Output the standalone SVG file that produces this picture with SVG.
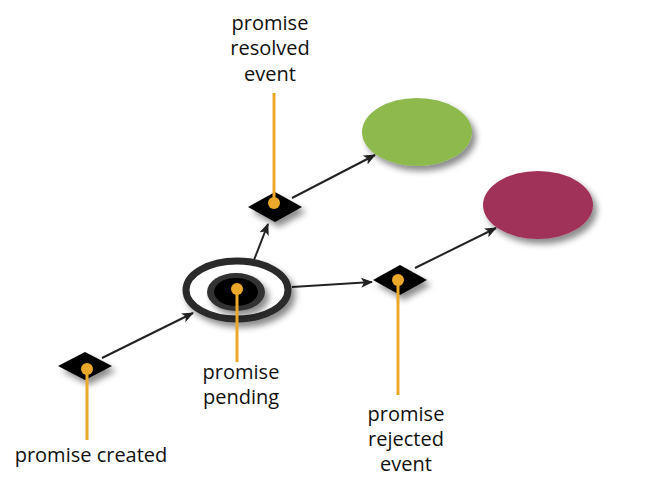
<svg xmlns="http://www.w3.org/2000/svg" width="672" height="491" viewBox="0 0 672 491">
<style>
.lbl{font-family:"Open Sans","Lato",sans-serif;font-size:20px;fill:#111;text-anchor:middle}
.conn{stroke:#222;stroke-width:2;fill:none}
.pin{stroke:#EBA82A;stroke-width:3;fill:none}
.dot{fill:#EBA82A}
.dia{fill:#000}
</style>
<defs>
<filter id="sh" x="-40%" y="-40%" width="190%" height="190%">
<feDropShadow dx="4" dy="5" stdDeviation="3" flood-color="#000" flood-opacity="0.45"/>
</filter>
<marker id="arr" viewBox="0 0 12 10" refX="11" refY="5" markerWidth="12" markerHeight="10" markerUnits="userSpaceOnUse" orient="auto">
<path d="M0,0 L12,5 L0,10 L3,5 Z" fill="#222"/>
</marker>
</defs>
<g id="connectors">
<line class="conn" x1="102" y1="358" x2="193" y2="313" marker-end="url(#arr)"/>
<line class="conn" x1="254" y1="260" x2="268" y2="224" marker-end="url(#arr)"/>
<line class="conn" x1="292" y1="287" x2="372" y2="282" marker-end="url(#arr)"/>
<line class="conn" x1="292" y1="198" x2="375" y2="155" marker-end="url(#arr)"/>
<line class="conn" x1="415" y1="268" x2="496" y2="228" marker-end="url(#arr)"/>
</g>
<g id="resolved">
<ellipse cx="417" cy="132" rx="55" ry="34" fill="#8DB94E" filter="url(#sh)"/>
</g>
<g id="rejected">
<ellipse cx="538" cy="205" rx="55" ry="34" fill="#A0325A" filter="url(#sh)"/>
</g>
<g id="pending">
<ellipse cx="237" cy="290" rx="51" ry="29" fill="#fff" stroke="#2a2a2a" stroke-width="7" filter="url(#sh)"/>
<ellipse cx="236" cy="292" rx="29" ry="19" fill="#333" filter="url(#sh)"/>
<ellipse cx="236" cy="292" rx="22" ry="14" fill="#000"/>
<line class="pin" x1="237" y1="289" x2="237" y2="362"/>
<circle class="dot" cx="237" cy="289" r="6"/>
<text class="lbl" x="241" y="379">promise</text>
<text class="lbl" x="241" y="404">pending</text>
</g>
<g id="created">
<polygon class="dia" points="58,366 85,352 112,366 85,380" filter="url(#sh)"/>
<line class="pin" x1="87" y1="369" x2="87" y2="440"/>
<circle class="dot" cx="87" cy="369" r="6"/>
<text class="lbl" x="91" y="462">promise created</text>
</g>
<g id="resolved-event">
<polygon class="dia" points="248,207 275,192 302,207 275,222" filter="url(#sh)"/>
<line class="pin" x1="274" y1="93" x2="274" y2="203"/>
<circle class="dot" cx="274" cy="203" r="6"/>
<text class="lbl" x="270" y="30">promise</text>
<text class="lbl" x="270" y="55">resolved</text>
<text class="lbl" x="270" y="81">event</text>
</g>
<g id="rejected-event">
<polygon class="dia" points="373,280 400,265 427,280 400,295" filter="url(#sh)"/>
<line class="pin" x1="398" y1="280" x2="398" y2="395"/>
<circle class="dot" cx="398" cy="280" r="6"/>
<text class="lbl" x="406" y="421">promise</text>
<text class="lbl" x="406" y="446">rejected</text>
<text class="lbl" x="406" y="471">event</text>
</g>
</svg>
